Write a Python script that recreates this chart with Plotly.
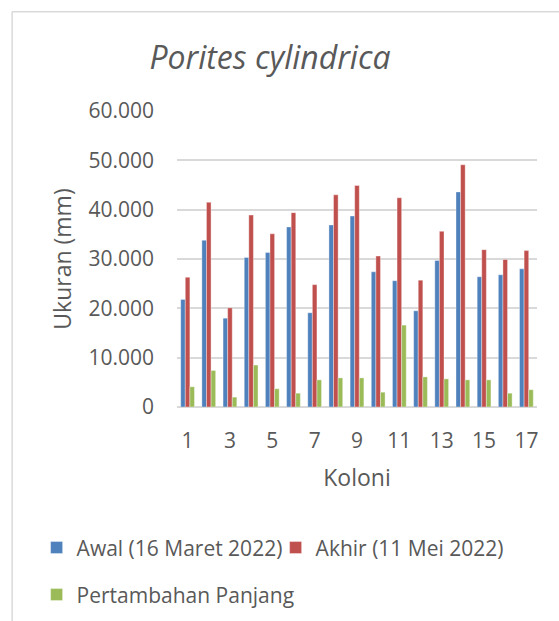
import plotly.graph_objects as go

koloni = list(range(1, 18))
awal = [21800, 33800, 18000, 30300, 31300, 36500, 19100, 36900, 38700,
        27400, 25600, 19500, 29700, 43600, 26400, 26800, 28000]
akhir = [26300, 41500, 20100, 38900, 35100, 39400, 24800, 43000, 44900,
         30600, 42400, 25700, 35600, 49100, 31900, 29900, 31700]
pertambahan = [4100, 7400, 2000, 8500, 3700, 2800, 5500, 5900, 5900,
               3000, 16600, 6100, 5700, 5500, 5500, 2800, 3500]

series_names = ["Awal (16 Maret 2022)", "Akhir (11 Mei 2022)", "Pertambahan Panjang"]
colors = ["#4F81BD", "#C0504D", "#9BBB59"]
legend_ids = ["legend", "legend", "legend2"]

y_tickvals = [0, 10000, 20000, 30000, 40000, 50000, 60000]
y_ticktext = ["0", "10.000", "20.000", "30.000", "40.000", "50.000", "60.000"]
x_tickvals = [1, 3, 5, 7, 9, 11, 13, 15, 17]

FONT = "Open Sans"
GREY = "#595959"

fig = go.Figure()
for name, vals, col, lg in zip(series_names, [awal, akhir, pertambahan], colors, legend_ids):
    fig.add_trace(go.Bar(x=koloni, y=vals, name=name, legend=lg,
                         marker=dict(color=col, line=dict(width=0.6, color="rgba(255,255,255,0.6)"))))

legend_common = dict(orientation="h", xref="paper", yref="paper",
                     xanchor="left", yanchor="middle",
                     font=dict(family=FONT, size=21, color=GREY),
                     itemwidth=30, traceorder="normal",
                     bgcolor="rgba(0,0,0,0)")

fig.update_layout(
    width=559, height=621,
    margin=dict(l=177, r=22, t=111, b=214, autoexpand=False),
    paper_bgcolor="white", plot_bgcolor="white",
    barmode="group", bargap=0.35, bargroupgap=0.0,
    font=dict(family=FONT, color=GREY, size=20),
    title=dict(text="<i>Porites cylindrica</i>", x=0.483, xref="container", xanchor="center",
               y=0.907, yref="container", yanchor="middle",
               font=dict(family=FONT, size=32, color=GREY)),
    showlegend=True,
    legend=dict(x=-0.39, y=-0.476, entrywidth=194, **legend_common),
    legend2=dict(x=-0.39, y=-0.635, **legend_common),
    shapes=[
        dict(type="line", xref="paper", yref="paper", x0=-0.458, x1=1.2, y0=1.335, y1=1.335,
             line=dict(color="#D9D9D9", width=1.5)),
        dict(type="line", xref="paper", yref="paper", x0=-0.458, x1=-0.458, y0=1.335, y1=-0.9,
             line=dict(color="#D9D9D9", width=1.5)),
    ],
)
fig.update_xaxes(
    tickmode="array", tickvals=x_tickvals, range=[0.5, 17.5],
    showgrid=False, showline=False, zeroline=False, ticks="",
    ticklabelstandoff=19, automargin=False,
    title=dict(text="Koloni", font=dict(size=23, color=GREY, family=FONT), standoff=16),
    tickfont=dict(size=21, color=GREY, family=FONT),
)
fig.update_yaxes(
    tickmode="array", tickvals=y_tickvals, ticktext=y_ticktext, range=[0, 60000],
    showgrid=True, gridcolor="#D9D9D9", gridwidth=1.5,
    zeroline=True, zerolinecolor="#D9D9D9", zerolinewidth=1.5,
    showline=False, ticks="", ticklabelstandoff=22, automargin=False,
    title=dict(text="Ukuran (mm)", font=dict(size=23, color=GREY, family=FONT), standoff=10),
    tickfont=dict(size=21, color=GREY, family=FONT),
)

fig.write_html("out.html", config={"displayModeBar": False},
               post_script="document.body.style.margin='0';")
